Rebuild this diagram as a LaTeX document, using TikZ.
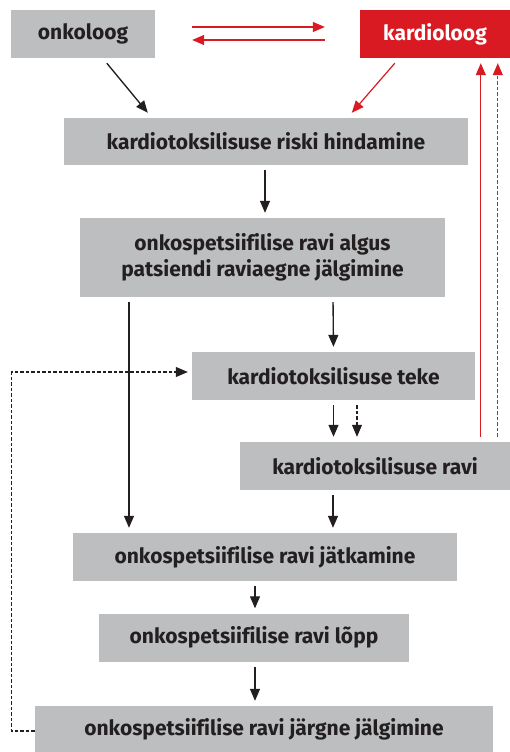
\documentclass[tikz,border=0pt]{standalone}
\usepackage{fontspec}
\setmainfont[Ligatures=NoCommon]{Fira Sans}
\usetikzlibrary{arrows.meta,calc}
\definecolor{boxgray}{HTML}{BCBEC0}
\definecolor{kred}{HTML}{DA1A22}
\definecolor{ink}{HTML}{231F20}
\begin{document}
\begin{tikzpicture}[x=1pt,y=-1pt,
  box/.style={rectangle,fill=boxgray,text=ink,font=\fontsize{21}{26}\selectfont\bfseries,inner sep=0pt,align=center},
  redbox/.style={box,fill=kred,text=white},
  arr/.style={draw=ink,line width=1.35pt,-{Triangle[length=12pt,width=10pt]}},
  rarr/.style={draw=kred,line width=1.2pt,-{Triangle[length=12pt,width=10pt]}},
  dsh/.style={dash pattern=on 3.5pt off 2pt,line width=1.1pt},
  gap/.style={shorten <=5pt,shorten >=5pt}]
\useasboundingbox (0,0) rectangle (510,752);
\node[box,minimum width=144pt,minimum height=48pt] (onk) at (83,34) {onkoloog};
\node[redbox,minimum width=150pt,minimum height=48pt] (kard) at (435,34) {kardioloog};
\node[box,minimum width=404pt,minimum height=47pt] (riski) at (266,141.5) {kardiotoksilisuse riski hindamine};
\node[box,minimum width=365pt,minimum height=79pt] (algus) at (262.5,257.5) {onkospetsiifilise ravi algus\\patsiendi raviaegne jälgimine};
\node[box,minimum width=283pt,minimum height=48pt] (teke) at (333.5,376) {kardiotoksilisuse teke};
\node[box,minimum width=270pt,minimum height=48pt] (ravi) at (375,466) {kardiotoksilisuse ravi};
\node[box,minimum width=384pt,minimum height=48pt] (jatk) at (265,557) {onkospetsiifilise ravi jätkamine};
\node[box,minimum width=310pt,minimum height=48pt] (lopp) at (254,637.5) {onkospetsiifilise ravi lõpp};
\node[box,minimum width=458pt,minimum height=46pt] (jarg) at (264,729) {onkospetsiifilise ravi järgne jälgimine};
% top red exchange
\draw[rarr,shorten <=37pt,shorten >=35pt] ([yshift=7pt]onk.east) -- ([yshift=7pt]kard.west);
\draw[rarr,shorten <=35pt,shorten >=37pt] ([yshift=-6pt]kard.west) -- ([yshift=-6pt]onk.east);
% diagonals
\draw[arr] ([xshift=96pt,yshift=-5pt]onk.south west) -- ([xshift=84pt,yshift=5pt]riski.north west);
\draw[rarr] ([xshift=35pt,yshift=-5pt]kard.south west) -- ([xshift=288pt,yshift=5pt]riski.north west);
% main flow
\draw[arr,gap] ([xshift=-1pt]riski.south) -- ([xshift=2.5pt]algus.north);
\draw[arr,gap] ([xshift=70.5pt]algus.south) -- (teke.north);
\draw[arr,gap] ([xshift=-133.5pt]algus.south) -- ([xshift=-136pt]jatk.north);
\draw[arr,gap] (teke.south) -- ([xshift=-41.5pt]ravi.north);
\draw[arr,gap,dsh] ([xshift=23.5pt]teke.south) -- ([xshift=-18pt]ravi.north);
\draw[arr,gap] ([xshift=-42pt]ravi.south) -- ([xshift=68pt]jatk.north);
\draw[arr,gap] ([xshift=-10pt]jatk.south) -- ([xshift=1pt]lopp.north);
\draw[arr,gap] ([xshift=1pt]lopp.south) -- ([xshift=-9pt]jarg.north);
% feedback dashed
\draw[arr,dsh,shorten >=4pt] ([yshift=-2pt]jarg.west) -- ++(-23,0) |- ([yshift=4pt]teke.west);
% red returns to kardioloog
\draw[rarr,gap] ([xshift=241pt]ravi.north west) -- ([xshift=121pt]kard.south west);
\draw[rarr,gap,dsh] ([xshift=258pt]ravi.north west) -- ([xshift=138pt]kard.south west);
\end{tikzpicture}
\end{document}
